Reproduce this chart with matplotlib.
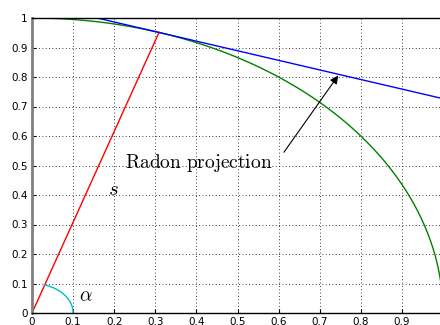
import numpy as np
import matplotlib
matplotlib.use("Agg")
import matplotlib.pyplot as plt

plt.rcParams['mathtext.fontset'] = 'cm'

# projection angle and arc radius
alpha_deg = 72
arc_r = 0.1
xticks = [0, 0.1, 0.2, 0.3, 0.4, 0.5, 0.6, 0.7, 0.8, 0.9, 1]
yticks = [0, 0.1, 0.2, 0.3, 0.4, 0.5, 0.6, 0.7, 0.8, 0.9, 1]
tick_labels = ['0', '0.1', '0.2', '0.3', '0.4', '0.5', '0.6', '0.7', '0.8', '0.9', '1']
arrow_tip = (0.745, 0.805)
arrow_tail = (0.613, 0.545)

a = np.deg2rad(alpha_deg)
fig = plt.figure(figsize=(4.4, 3.25), dpi=100)
ax = fig.add_axes([32/440, 12/325, 411/440, 295/325])

# unit circle
t = np.linspace(0, np.pi/2, 300)
ax.plot(np.cos(t), np.sin(t), color=(0, 0.5, 0), lw=1)

# ray s
ax.plot([0, np.cos(a)], [0, np.sin(a)], color='r', lw=1)

# tangent line = projection
xs = np.linspace(0, 1, 100)
ax.plot(xs, (1 - xs*np.cos(a)) / np.sin(a), color='b', lw=1)

# angle arc
ta = np.linspace(0, a, 100)
ax.plot(arc_r*np.cos(ta), arc_r*np.sin(ta), color='c', lw=1)

ax.text(0.115, 0.06, r'$\alpha$', fontsize=14, va='center', ha='left')
ax.text(0.185, 0.42, r'$s$', fontsize=15, va='center', ha='left')

ax.text(0.226, 0.51, r'$\mathrm{Radon\ projection}$', fontsize=14, va='center', ha='left')
ax.annotate('', xy=arrow_tip, xytext=arrow_tail,
            arrowprops=dict(arrowstyle='-|>', color='k', lw=0.8, mutation_scale=12,
                            shrinkA=0, shrinkB=0))

ax.set_xlim(0, 1)
ax.set_ylim(0, 1)
ax.set_xticks(xticks)
ax.set_yticks(yticks)
ax.set_xticklabels(tick_labels)
ax.set_yticklabels(tick_labels)
ax.tick_params(direction='in', length=3, labelsize=7.5, pad=3)
ax.grid(True, linestyle=(0, (1, 3)), color='k', lw=0.6)
ax.spines['left'].set_color('gray')
ax.spines['left'].set_linewidth(2)
for s in ['top', 'bottom', 'right']:
    ax.spines[s].set_linewidth(1)

fig.savefig('out.png', dpi=100)
